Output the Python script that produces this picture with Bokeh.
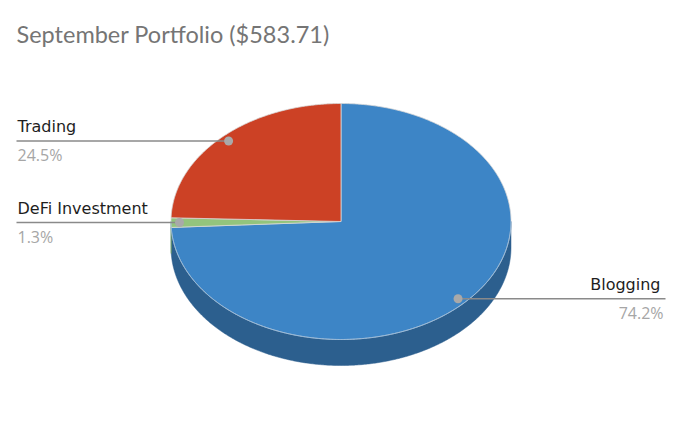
import math
from bokeh.plotting import figure
from bokeh.models import Range1d
from bokeh.core.properties import value
from bokeh.embed import file_html
from bokeh.resources import INLINE

# ---- data ----
title_text = "September Portfolio ($583.71)"
categories = ["Blogging", "DeFi Investment", "Trading"]
shares = [74.2, 1.3, 24.5]
pct_labels = ["74.2%", "1.3%", "24.5%"]
top_colors = ["#3d85c6", "#93c47d", "#cc4125"]
side_colors = ["#2c5f8e", "#6b9a58", "#9a3119"]

# ---- layout ----
W, H = 668, 408
cx, cy = 340.5, 221.0
rx, ry = 170.0, 118.0
depth = 26.0
dot_r = 0.95
left_x, right_x = 16.0, 665.0

p = figure(width=W, height=H, x_range=Range1d(0, W), y_range=Range1d(H, 0),
           output_backend="svg", toolbar_location=None, min_border=0,
           x_axis_type=None, y_axis_type=None)
p.grid.visible = False
p.outline_line_color = None
p.background_fill_color = "white"
p.border_fill_color = "white"


def pt(theta, r=1.0, dy=0.0):
    t = math.radians(theta)
    return cx + rx * r * math.sin(t), cy - ry * r * math.cos(t) + dy


def arc(a0, a1, dy=0.0):
    n = max(2, int(abs(a1 - a0) * 2) + 1)
    pts = [pt(a0 + (a1 - a0) * i / (n - 1), 1.0, dy) for i in range(n)]
    return [q[0] for q in pts], [q[1] for q in pts]


total = sum(shares)
bounds = []
acc = 0.0
for s in shares:
    a0 = acc / total * 360.0
    acc += s
    a1 = acc / total * 360.0
    bounds.append((a0, a1))

# sides (front half only)
for (a0, a1), col in zip(bounds, side_colors):
    lo, hi = max(a0, 90.0), min(a1, 270.0)
    if hi > lo:
        tx, ty = arc(lo, hi)
        bx, by = arc(hi, lo, depth)
        p.patch(tx + bx, ty + by, fill_color=col, line_color=col, line_width=0.5)

# top faces
for (a0, a1), col in zip(bounds, top_colors):
    ax, ay = arc(a0, a1)
    p.patch([cx] + ax, [cy] + ay, fill_color=col, line_color="#d8d8d8", line_width=0.8)

# light front rim
rx_, ry_ = arc(90.0, 270.0)
p.line(rx_, ry_, line_color="#7fb0dd", line_width=0.8, line_alpha=0.7)

# leader lines and labels
for (a0, a1), name, pct in zip(bounds, categories, pct_labels):
    mid = (a0 + a1) / 2.0
    dx, dy = pt(mid, dot_r)
    if dx < cx:
        end = left_x
        align = "left"
        nx, px_ = left_x + 1, left_x + 1
    else:
        end = right_x
        align = "right"
        nx, px_ = right_x - 5, right_x - 2
    p.line([dx, end], [dy, dy], line_color="#8a8a8a", line_width=1.6)
    p.scatter([dx], [dy], size=9, marker="circle", fill_color="#a9a9a9", line_color=None)
    p.text([nx], [dy - 14], text=[name], text_align=align, text_baseline="alphabetic",
           text_font=value("DejaVu Sans"), text_font_size=value("16px"), text_color="#1e1e1e")
    p.text([px_], [dy + 14], text=[pct], text_align=align, text_baseline="alphabetic",
           text_font=value("Open Sans"), text_font_size=value("16px"), text_color="#a6a6a6")

# title
p.text([16], [33], text=[title_text], text_align="left", text_baseline="alphabetic",
       text_font=value("Lato"), text_font_size=value("23.5px"), text_color="#757575")

open("out.html", "w").write(file_html(p, INLINE))
